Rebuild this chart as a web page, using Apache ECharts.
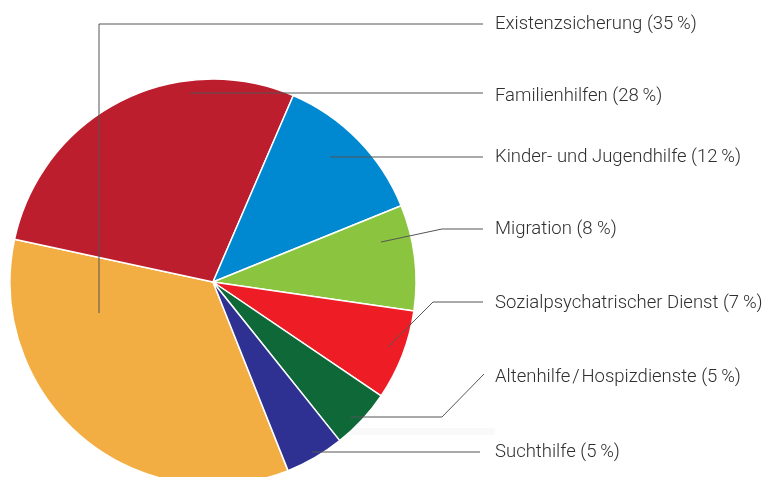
<!DOCTYPE html>
<html>
<head>
<meta charset="utf-8">
<script src="https://cdn.jsdelivr.net/npm/echarts@6/dist/echarts.min.js"></script>
<style>
  html, body { margin: 0; padding: 0; background: #fff; }
  #chart { width: 767px; height: 477px; }
</style>
</head>
<body>
<div id="chart"></div>
<script>
// Bereiche, Anteile (aus dem Bild abgeschätzt) und Beschriftungen
var names = ["Existenzsicherung", "Familienhilfen", "Kinder- und Jugendhilfe", "Migration",
	"Sozialpsychatrischer Dienst", "Altenhilfe\u200A/\u200AHospizdienste", "Suchthilfe"];
var shares = [34.4, 28.1, 12.4, 8.4, 7.2, 4.8, 4.7];
var pctLabels = ["35\u2009%", "28\u2009%", "12\u2009%", "8 %", "7\u2009%", "5\u2009%", "5\u2009%"];
var colors = ["#F2AE43", "#BC1E2D", "#0089D0", "#8BC43F", "#EE1C25", "#0E6838", "#2E3192"];

// Lage der Beschriftungen und Hinweislinien (nur Layout)
var labelY = [24, 96, 157, 229, 303, 377, 452];
var linePts = [
	[[99, 313], [99, 24], [483, 24]],
	[[190, 93], [483, 93]],
	[[330, 157], [483, 157]],
	[[381, 242], [442, 229], [483, 229]],
	[[388, 347], [433, 302], [483, 302]],
	[[351, 417], [442, 417], [484, 374]],
	[[312, 452], [480, 452]]
];

var myChart = echarts.init(document.getElementById("chart"));

var data = names.map(function (n, i) {
	return { name: n, value: shares[i], itemStyle: { color: colors[i] } };
});

// weicher Schatten unter der Grafik
var graphics = [{
	type: "rect",
	z: 0,
	shape: { x: 345, y: 428, width: 150, height: 7, r: 3 },
	style: {
		fill: "rgba(0,0,0,0.025)",
		shadowBlur: 16,
		shadowColor: "rgba(0,0,0,0.12)"
	}
}];
linePts.forEach(function (pts) {
	graphics.push({
		type: "polyline",
		z: 100,
		shape: { points: pts },
		style: { stroke: "#555", lineWidth: 1, fill: null }
	});
});

var option = {
	animation: false,
	backgroundColor: "#fff",
	graphic: graphics,
	series: [{
		type: "pie",
		z: 5,
		center: [213, 282],
		radius: 203,
		startAngle: -68.3,
		clockwise: true,
		avoidLabelOverlap: false,
		itemStyle: { borderColor: "#fff", borderWidth: 1.5 },
		label: {
			show: true,
			position: "outside",
			formatter: function (p) { return p.name + " (" + pctLabels[p.dataIndex] + ")"; },
			fontFamily: "Roboto",
			fontWeight: 300,
			fontSize: 18.5,
			color: "#2f2f2f"
		},
		labelLine: { show: false },
		labelLayout: function (p) {
			return {
				x: 495,
				y: labelY[p.dataIndex],
				align: "left",
				verticalAlign: "middle"
			};
		},
		data: data
	}]
};
myChart.setOption(option);
</script>
</body>
</html>
